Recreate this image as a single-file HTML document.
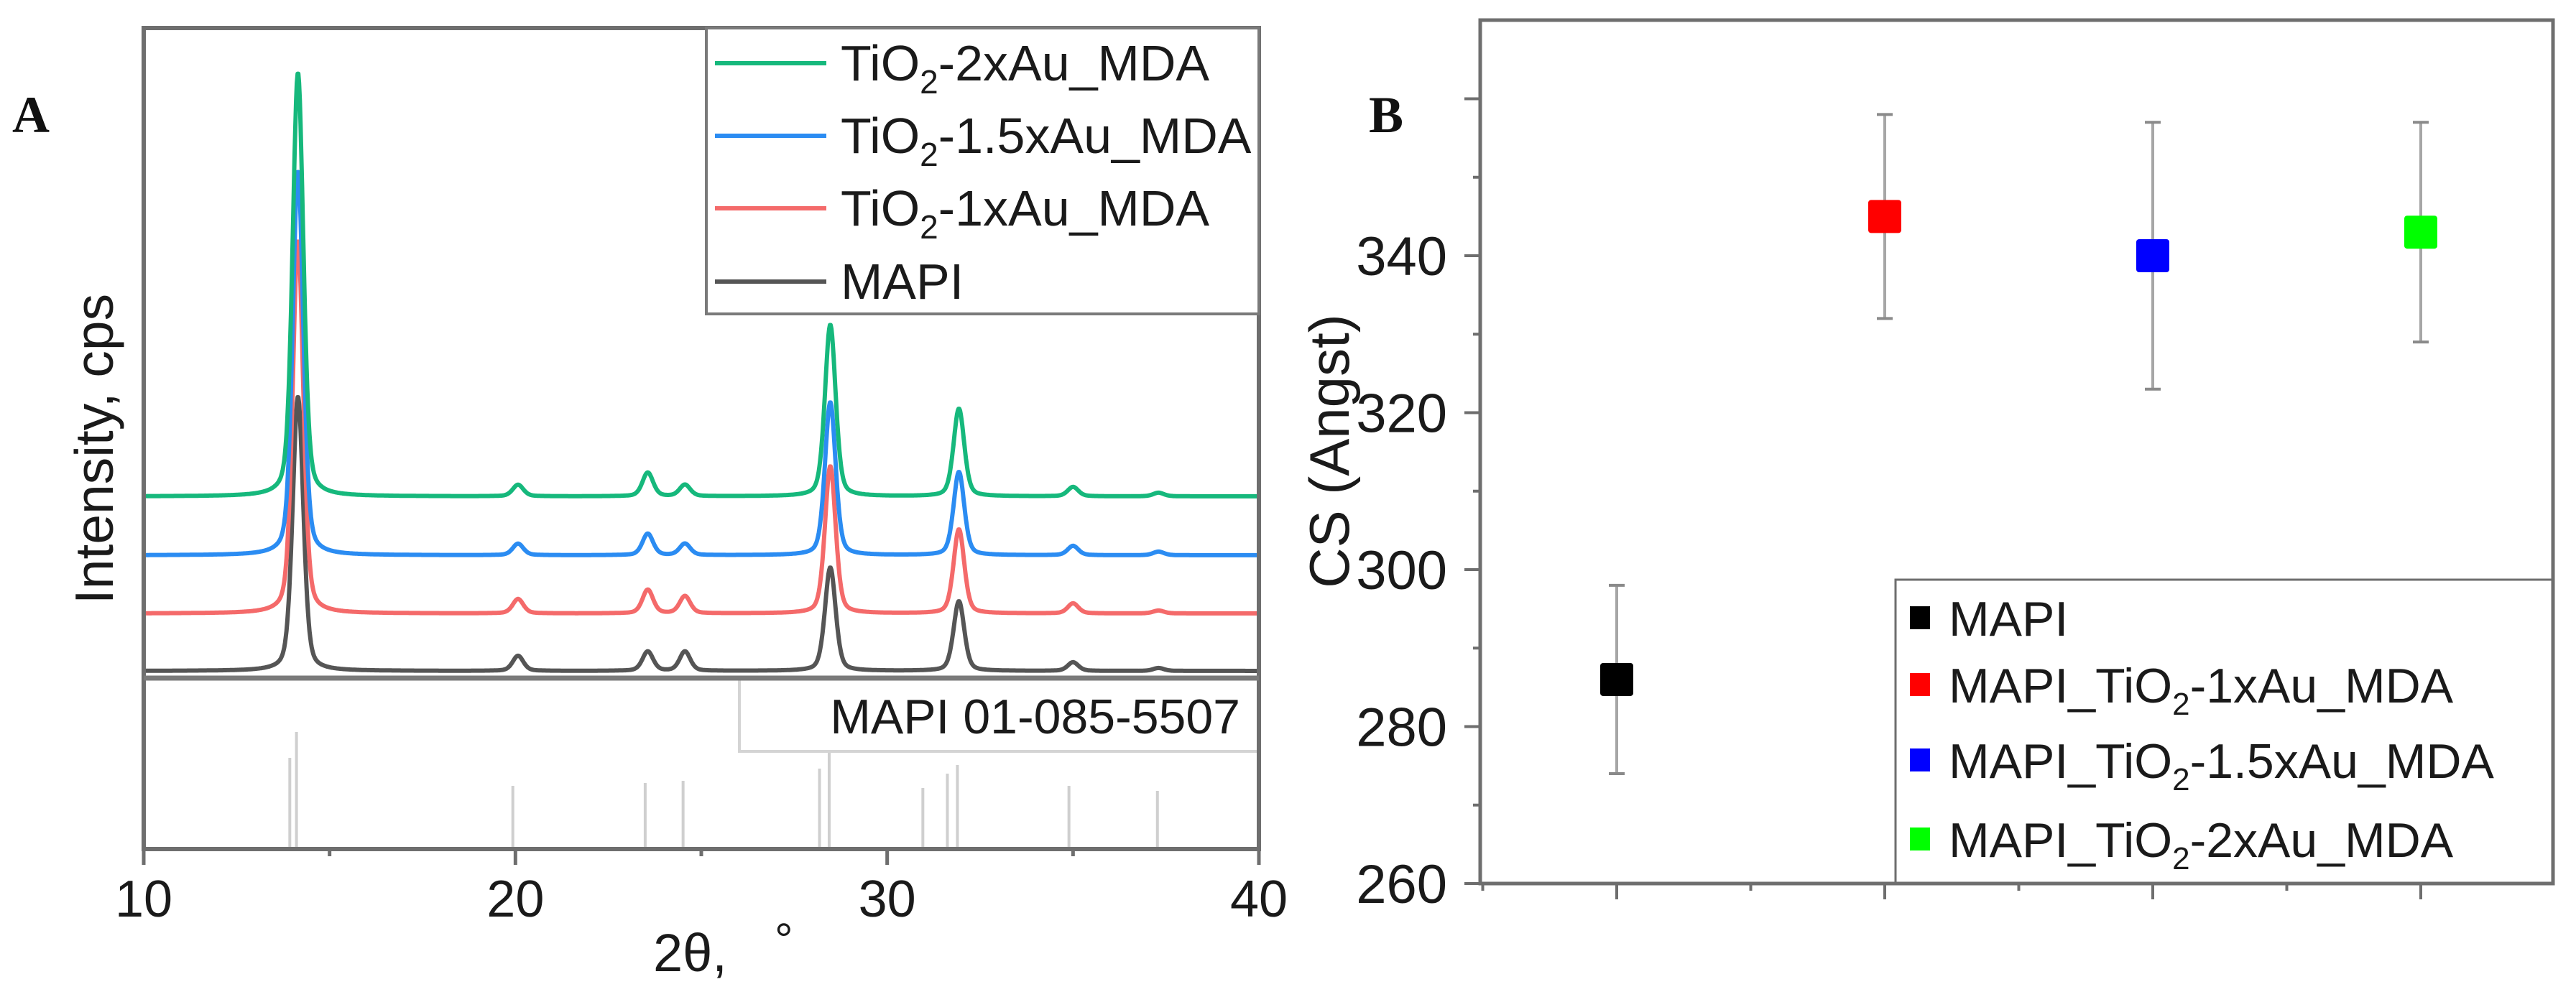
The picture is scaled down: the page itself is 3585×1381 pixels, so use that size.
<!DOCTYPE html>
<html><head><meta charset="utf-8">
<style>
html,body{margin:0;padding:0;background:#fff;}
svg{display:block;font-family:"Liberation Sans",Arial,sans-serif;}
</style></head>
<body>
<svg id="fig" xmlns="http://www.w3.org/2000/svg" width="3585" height="1381" viewBox="0 0 3585 1381">
<rect x="0" y="0" width="3585" height="1381" fill="#fff"/>
<g id="panelA"></g>
<g id="panelB"></g>
</svg>
<script>
// ---------- Panel A data ----------
const xrdSeriesNames = ["MAPI", "TiO2-1xAu_MDA", "TiO2-1.5xAu_MDA", "TiO2-2xAu_MDA"];
const xrdColors = ["#555555", "#f46a6a", "#2b8cf2", "#16b87c"];
const xrdOffsets = [10, 90, 171, 253];
const peakPositions = [14.15, 20.07, 23.56, 24.56, 28.47, 31.93, 35.0, 37.3];
const peakHeightsMAPI = [382, 21, 27, 27, 144, 97, 12, 4];
const peakHeights1x = [519, 20, 33, 24, 205, 117, 14, 4];
const peakHeights15x = [535, 16, 30, 16, 213, 116, 13, 5];
const peakHeights2x = [590, 16, 33, 16, 239, 122, 13, 5];
const refStickPos = [13.93, 14.11, 19.93, 23.49, 24.51, 28.18, 28.44, 30.96, 31.62, 31.89, 34.89, 37.27];
const refStickHeights = [127, 163, 88, 92, 95, 112, 140, 85, 105, 117, 88, 81];
const xTicksA = [10, 20, 30, 40];

// ---------- Panel B data ----------
const csCategories = ["MAPI", "MAPI_TiO2-1xAu_MDA", "MAPI_TiO2-1.5xAu_MDA", "MAPI_TiO2-2xAu_MDA"];
const csValues = [286, 345, 340, 343];
const csErrLow = [274, 332, 323, 329];
const csErrHigh = [298, 358, 357, 357];
const csColors = ["#000000", "#ff0000", "#0000ff", "#00ff00"];
const yTicksB = [260, 280, 300, 320, 340];

const NS = "http://www.w3.org/2000/svg";
function mk(parent, tag, attrs, text) {
  const e = document.createElementNS(NS, tag);
  for (const k in attrs) e.setAttribute(k, attrs[k]);
  if (text !== undefined) e.textContent = text;
  parent.appendChild(e);
  return e;
}

// ================= Panel A =================
const A = document.getElementById("panelA");
const AL = 200, AR = 1752, AT = 39, AB = 1182, ADIV = 944;
const xA = v => AL + (v - 10) / 30 * (AR - AL);
const yA = v => ADIV - v;
const yRef = h => AB - h;

refStickPos.forEach((p, i) => {
  const s = mk(A, "line", {x1: xA(p), x2: xA(p), y1: AB, y2: yRef(refStickHeights[i]), stroke: "#cfcfcf", "stroke-width": 4});
  
  
});

const rb = mk(A, "rect", {x: 1029, y: ADIV, width: AR - 1029, height: 102, fill: "#fff", stroke: "#d4d4d4", "stroke-width": 4});


const rt = mk(A, "text", {x: 1726, y: 1021, "font-size": 68, fill: "#1a1a1a", "text-anchor": "end"}, "MAPI 01-085-5507");



const heights = [peakHeightsMAPI, peakHeights1x, peakHeights15x, peakHeights2x];
function profile(x, hs) {
  let s = 0;
  const w = 0.17;
  for (let k = 0; k < peakPositions.length; k++) {
    const d = (x - peakPositions[k]) / w;
    s += hs[k] * (0.65 * Math.exp(-0.693 * d * d) + 0.35 / (1 + d * d));
  }
  return s;
}
for (let si = 0; si < 4; si++) {
  let d = "";
  for (let i = 0; i <= 1500; i++) {
    const x = 10 + i * 0.02;
    const v = xrdOffsets[si] + profile(x, heights[si]);
    d += (i ? "L" : "M") + xA(x).toFixed(1) + "," + yA(v).toFixed(1);
  }
  const p = mk(A, "path", {d: d, fill: "none", stroke: xrdColors[si], "stroke-width": 6, "stroke-linejoin": "round"});
  
  
}

const fr = mk(A, "rect", {x: AL, y: AT, width: AR - AL, height: AB - AT, fill: "none", stroke: "#6e6e6e", "stroke-width": 6});


const dv = mk(A, "line", {x1: AL, x2: AR, y1: ADIV, y2: ADIV, stroke: "#7a7a7a", "stroke-width": 7});



const lg = mk(A, "rect", {x: 983, y: AT, width: AR - 983, height: 437 - AT, fill: "#fff", stroke: "#7a7a7a", "stroke-width": 4});


const legRows = [88, 189, 290, 392];
const legOrder = [3, 2, 1, 0];
const legLabels = [["TiO", "2", "-2xAu_MDA"], ["TiO", "2", "-1.5xAu_MDA"], ["TiO", "2", "-1xAu_MDA"], ["MAPI"]];
legOrder.forEach((si, r) => {
  const l = mk(A, "line", {x1: 995, x2: 1150, y1: legRows[r], y2: legRows[r], stroke: xrdColors[si], "stroke-width": 6});
  
  
  const t = mk(A, "text", {x: 1170, y: legRows[r] + 24, "font-size": 70, fill: "#1a1a1a"});
  
  
  const parts = legLabels[r];
  mk(t, "tspan", {}, parts[0]);
  if (parts.length > 1) {
    mk(t, "tspan", {"font-size": 46, dy: 18}, parts[1]);
    mk(t, "tspan", {dy: -18}, parts[2]);
  }
});

for (let v = 10; v <= 40; v += 5) {
  const major = v % 10 === 0;
  const tk = mk(A, "line", {x1: xA(v), x2: xA(v), y1: AB, y2: AB + (major ? 22 : 10), stroke: "#6e6e6e", "stroke-width": 5});
  
  
}
xTicksA.forEach(v => {
  const t = mk(A, "text", {x: xA(v), y: 1276, "font-size": 72, fill: "#1a1a1a", "text-anchor": "middle"}, String(v));
  
  
});
const xt = mk(A, "text", {x: 909, y: 1352, "font-size": 74, fill: "#1a1a1a"}, "2θ,");


const deg = mk(A, "text", {x: 1078, y: 1330, "font-size": 64, fill: "#1a1a1a"}, "°");


const yt = mk(A, "text", {x: 0, y: 0, "font-size": 75, fill: "#1a1a1a", "text-anchor": "middle", transform: "translate(157,625) rotate(-90)"}, "Intensity, cps");


const la = mk(A, "text", {x: 17, y: 184, "font-size": 72, "font-weight": "bold", "font-family": "Liberation Serif, serif", fill: "#111"}, "A");



// ================= Panel B =================
const B = document.getElementById("panelB");
const BL = 2060, BR = 3553, BT = 28, BB = 1230;
const yB = v => BB - (v - 260) / 20 * 218.5;
const xB = i => 2250 + i * 373;

csValues.forEach((v, i) => {
  const eb = mk(B, "line", {x1: xB(i), x2: xB(i), y1: yB(csErrLow[i]), y2: yB(csErrHigh[i]), stroke: "#a6a6a6", "stroke-width": 4});
  
  
  [csErrLow[i], csErrHigh[i]].forEach(c => {
    const cap = mk(B, "line", {x1: xB(i) - 11, x2: xB(i) + 11, y1: yB(c), y2: yB(c), stroke: "#8a8a8a", "stroke-width": 4});
    
    
  });
  const m = mk(B, "rect", {x: xB(i) - 23, y: yB(v) - 23, width: 46, height: 46, rx: 4, fill: csColors[i]});
  
  
});

const lgB = mk(B, "rect", {x: 2638, y: 807, width: BR - 2638, height: BB - 807, fill: "#fff", stroke: "#6e6e6e", "stroke-width": 3});


const legBRows = [860, 953, 1058, 1168];
const legBLabels = [["MAPI"], ["MAPI_TiO", "2", "-1xAu_MDA"], ["MAPI_TiO", "2", "-1.5xAu_MDA"], ["MAPI_TiO", "2", "-2xAu_MDA"]];
legBRows.forEach((ry, i) => {
  const sw = mk(B, "rect", {x: 2658, y: ry - 16, width: 28, height: 32, fill: csColors[i]});
  
  
  const t = mk(B, "text", {x: 2712, y: ry + 25, "font-size": 68, fill: "#1a1a1a"});
  
  
  const parts = legBLabels[i];
  mk(t, "tspan", {}, parts[0]);
  if (parts.length > 1) {
    mk(t, "tspan", {"font-size": 44, dy: 17}, parts[1]);
    mk(t, "tspan", {dy: -17}, parts[2]);
  }
});

const frB = mk(B, "rect", {x: BL, y: BT, width: BR - BL, height: BB - BT, fill: "none", stroke: "#6e6e6e", "stroke-width": 5});



for (let v = 260; v <= 360; v += 10) {
  const major = v % 20 === 0;
  const tk = mk(B, "line", {x1: BL, x2: BL - (major ? 22 : 10), y1: yB(v), y2: yB(v), stroke: "#6e6e6e", "stroke-width": 4});
  
  
}
yTicksB.forEach(v => {
  const t = mk(B, "text", {x: 2014, y: yB(v) + 27, "font-size": 76, fill: "#1a1a1a", "text-anchor": "end"}, String(v));
  
  
});
for (let k = -1; k <= 7; k++) {
  const x = 2250 + k * 186.5;
  if (x < BL || x > BR) continue;
  const major = k % 2 === 0;
  const tk = mk(B, "line", {x1: x, x2: x, y1: BB, y2: BB + (major ? 22 : 10), stroke: "#6e6e6e", "stroke-width": 4});
  
  
}
const ytB = mk(B, "text", {x: 0, y: 0, "font-size": 78, fill: "#1a1a1a", "text-anchor": "middle", transform: "translate(1877,628) rotate(-90)"}, "CS (Angst)");


const lb = mk(B, "text", {x: 1905, y: 184, "font-size": 72, "font-weight": "bold", "font-family": "Liberation Serif, serif", fill: "#111"}, "B");


</script>
</body></html>
